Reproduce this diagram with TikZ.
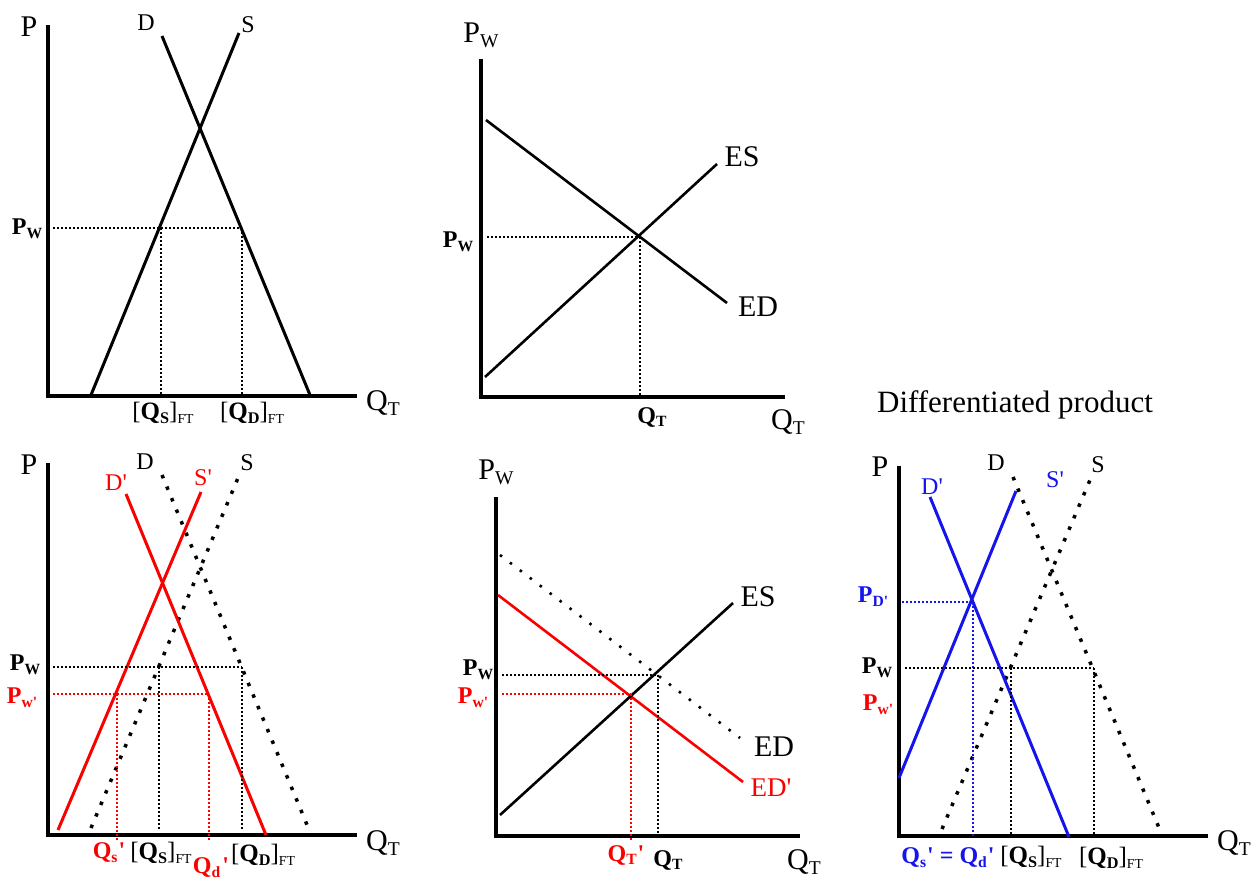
\documentclass[tikz,border=0pt]{standalone}
\usepackage{fontspec}
\setmainfont{Liberation Serif}[Ligatures=TeXOff]
\definecolor{myred}{RGB}{250,0,0}
\definecolor{myblue}{RGB}{20,20,235}
\newcommand{\dn}[1]{\raisebox{-0.35ex}{\scalebox{0.65}{#1}}}
\newcommand{\dnn}[1]{\raisebox{-0.3ex}{\scalebox{0.55}{#1}}}
\begin{document}
\begin{tikzpicture}[x=1pt,y=-1pt,
  axisline/.style={line width=3.5pt,line join=miter},
  curve/.style={line width=3pt},
  thincurve/.style={line width=2.6pt},
  shifted/.style={line width=3.5pt,dash pattern=on 3.5pt off 9pt},
  shiftedthin/.style={line width=2.6pt,dash pattern=on 2.5pt off 10pt},
  guide/.style={line width=1.6pt,dash pattern=on 2pt off 2pt},
  big/.style={font=\fontsize{30}{30}\selectfont,inner sep=0pt},
  mid/.style={font=\fontsize{24}{24}\selectfont,inner sep=0pt},
  bl/.style={font=\fontsize{24}{24}\selectfont\bfseries,inner sep=0pt},
  brk/.style={font=\fontsize{25}{25}\selectfont,inner sep=0pt}]
\useasboundingbox (0,0) rectangle (1253,883);

% ---------- Panel 1 (top left)
\coordinate (p1t) at (48,25); \coordinate (p1o) at (48,396); \coordinate (p1r) at (357,396);
\draw[axisline] (p1t) -- (p1o) -- (p1r);
\coordinate (p1d1) at (162,36); \coordinate (p1d2) at (310,395);
\coordinate (p1s1) at (91,395); \coordinate (p1s2) at (239,33);
\draw[curve] (p1d1) -- (p1d2);
\draw[curve] (p1s1) -- (p1s2);
\coordinate (p1g0) at (53,228); \coordinate (p1ga) at (161,228); \coordinate (p1gb) at (242,228);
\coordinate (p1ga0) at (161,396); \coordinate (p1gb0) at (242,396);
\draw[guide] (p1g0) -- (p1gb);
\draw[guide] (p1ga) -- (p1ga0);
\draw[guide] (p1gb) -- (p1gb0);
\node[big] (p1P) at (29,27) {P};
\node[mid] (p1D) at (146,23) {D};
\node[mid] (p1S) at (248,25) {S};
\node[bl] (p1Pw) at (27,229) {P\dn{W}};
\node[brk] (p1Qs) at (163,413) {[\textbf{Q\dn{S}}]\dnn{FT}};
\node[brk] (p1Qd) at (252,413) {[\textbf{Q\dn{D}}]\dnn{FT}};
\node[big] (p1Q) at (383,403) {Q\dn{T}};

% ---------- Panel 2 (top middle)
\coordinate (p2t) at (481,59); \coordinate (p2o) at (481,397); \coordinate (p2r) at (785,397);
\draw[axisline] (p2t) -- (p2o) -- (p2r);
\coordinate (p2d1) at (486,120); \coordinate (p2d2) at (727,303);
\coordinate (p2s1) at (485,377); \coordinate (p2s2) at (717,164);
\draw[thincurve] (p2d1) -- (p2d2);
\draw[thincurve] (p2s1) -- (p2s2);
\coordinate (p2g0) at (487,237); \coordinate (p2ge) at (640,237); \coordinate (p2ge0) at (640,397);
\draw[guide] (p2g0) -- (p2ge);
\draw[guide] (p2ge) -- (p2ge0);
\node[big] (p2P) at (481,35) {P\dn{W}};
\node[big] (p2ES) at (742,157) {ES};
\node[big] (p2ED) at (758,307) {ED};
\node[bl] (p2Pw) at (458,242) {P\dn{W}};
\node[bl] (p2QT) at (652,417) {Q\dn{T}};
\node[big] (p2Q) at (788,422) {Q\dn{T}};

% ---------- Panel 3 (bottom left)
\coordinate (p3t) at (48,463); \coordinate (p3o) at (48,835); \coordinate (p3r) at (357,835);
\draw[axisline] (p3t) -- (p3o) -- (p3r);
\coordinate (p3d1) at (162,475); \coordinate (p3d2) at (310,832);
\coordinate (p3s1) at (91,828); \coordinate (p3s2) at (238,478);
\draw[shifted] (p3d1) -- (p3d2);
\draw[shifted] (p3s1) -- (p3s2);
\coordinate (p3dd1) at (126,494); \coordinate (p3dd2) at (266,835);
\coordinate (p3ss1) at (58,830); \coordinate (p3ss2) at (201,492);
\draw[curve,myred] (p3dd1) -- (p3dd2);
\draw[curve,myred] (p3ss1) -- (p3ss2);
\coordinate (p3g0) at (53,667); \coordinate (p3ga) at (159,667); \coordinate (p3gb) at (242,667);
\coordinate (p3ga0) at (159,830); \coordinate (p3gb0) at (242,830);
\draw[guide] (p3g0) -- (p3gb);
\draw[guide] (p3ga) -- (p3ga0);
\draw[guide] (p3gb) -- (p3gb0);
\coordinate (p3r0) at (53,694); \coordinate (p3ra) at (117,694); \coordinate (p3rb) at (209,694);
\coordinate (p3ra0) at (117,840); \coordinate (p3rb0) at (209,840);
\draw[guide,myred] (p3r0) -- (p3rb);
\draw[guide,myred] (p3ra) -- (p3ra0);
\draw[guide,myred] (p3rb) -- (p3rb0);
\node[big] (p3P) at (29,465) {P};
\node[mid] (p3D) at (145,462) {D};
\node[mid] (p3S) at (247,463) {S};
\node[mid,myred] (p3Dp) at (116,483) {D'};
\node[mid,myred] (p3Sp) at (203,478) {S'};
\node[bl] (p3Pw) at (25,665) {P\dn{W}};
\node[bl,myred] (p3Pwp) at (22,698) {P\dn{w'}};
\node[bl,myred] (p3Qs) at (109,853) {Q\dn{s}\kern1pt'};
\node[brk] (p3QS) at (161,853) {[\textbf{Q\dn{S}}]\dnn{FT}};
\node[bl,myred] (p3Qd) at (211,868) {Q\dn{d}\kern2pt'};
\node[brk] (p3QD) at (263,855) {[\textbf{Q\dn{D}}]\dnn{FT}};
\node[big] (p3Q) at (383,843) {Q\dn{T}};

% ---------- Panel 4 (bottom middle)
\coordinate (p4t) at (496,497); \coordinate (p4o) at (496,836); \coordinate (p4r) at (800,836);
\draw[axisline] (p4t) -- (p4o) -- (p4r);
\coordinate (p4d1) at (500,555); \coordinate (p4d2) at (740,738);
\coordinate (p4dd1) at (498,595); \coordinate (p4dd2) at (743,782);
\coordinate (p4s1) at (500,815); \coordinate (p4s2) at (733,603);
\draw[shiftedthin] (p4d1) -- (p4d2);
\draw[thincurve,myred] (p4dd1) -- (p4dd2);
\draw[thincurve] (p4s1) -- (p4s2);
\coordinate (p4g0) at (502,675); \coordinate (p4ge) at (658,675); \coordinate (p4ge0) at (658,836);
\draw[guide] (p4g0) -- (p4ge);
\draw[guide] (p4ge) -- (p4ge0);
\coordinate (p4r0) at (502,694); \coordinate (p4re) at (631,694); \coordinate (p4re0) at (631,840);
\draw[guide,myred] (p4r0) -- (p4re);
\draw[guide,myred] (p4re) -- (p4re0);
\node[big] (p4P) at (496,472) {P\dn{W}};
\node[big] (p4ES) at (758,597) {ES};
\node[big] (p4ED) at (774,747) {ED};
\node[myred,font=\fontsize{27}{27}\selectfont,inner sep=0pt] (p4EDp) at (771,788) {ED'};
\node[bl] (p4Pw) at (478,670) {P\dn{W}};
\node[bl,myred] (p4Pwp) at (473,698) {P\dn{w'}};
\node[bl,myred] (p4QTp) at (626,855) {Q\dn{T}\kern1pt'};
\node[bl] (p4QT) at (668,860) {Q\dn{T}};
\node[big] (p4Q) at (804,862) {Q\dn{T}};

% ---------- Panel 5 (bottom right)
\node[font=\fontsize{31}{31}\selectfont,inner sep=0pt] (p5title) at (1015,405) {Differentiated product};
\coordinate (p5t) at (899,466); \coordinate (p5o) at (899,836); \coordinate (p5r) at (1208,836);
\draw[axisline] (p5t) -- (p5o) -- (p5r);
\coordinate (p5d1) at (1013,477); \coordinate (p5d2) at (1162,835);
\coordinate (p5s1) at (942,829); \coordinate (p5s2) at (1090,480);
\draw[shifted] (p5d1) -- (p5d2);
\draw[shifted] (p5s1) -- (p5s2);
\coordinate (p5dd1) at (930,497); \coordinate (p5dd2) at (1069,837);
\coordinate (p5ss1) at (899,778); \coordinate (p5ss2) at (1016,491);
\draw[curve,myblue] (p5dd1) -- (p5dd2);
\draw[curve,myblue] (p5ss1) -- (p5ss2);
\coordinate (p5b0) at (902,602); \coordinate (p5be) at (973,602); \coordinate (p5be0) at (973,836);
\draw[guide,myblue] (p5b0) -- (p5be);
\draw[guide,myblue] (p5be) -- (p5be0);
\coordinate (p5g0) at (905,668); \coordinate (p5ga) at (1011,668); \coordinate (p5gb) at (1094,668);
\coordinate (p5ga0) at (1011,836); \coordinate (p5gb0) at (1094,836);
\draw[guide] (p5g0) -- (p5gb);
\draw[guide] (p5ga) -- (p5ga0);
\draw[guide] (p5gb) -- (p5gb0);
\node[big] (p5P) at (880,467) {P};
\node[mid] (p5D) at (996,463) {D};
\node[mid] (p5S) at (1098,465) {S};
\node[mid,myblue] (p5Dp) at (932,487) {D'};
\node[mid,myblue] (p5Sp) at (1055,480) {S'};
\node[bl,myblue] (p5PD) at (873,597) {P\dn{D'}};
\node[bl] (p5Pw) at (877,668) {P\dn{W}};
\node[bl,myred] (p5Pwp) at (878,705) {P\dn{w'}};
\node[bl,myblue] (p5Qsd) at (948,858) {Q\dn{s}\kern1pt' = Q\dn{d}\kern1pt'};
\node[brk] (p5QS) at (1031,857) {[\textbf{Q\dn{S}}]\dnn{FT}};
\node[brk] (p5QD) at (1111,858) {[\textbf{Q\dn{D}}]\dnn{FT}};
\node[big] (p5Q) at (1234,843) {Q\dn{T}};
\end{tikzpicture}
\end{document}
